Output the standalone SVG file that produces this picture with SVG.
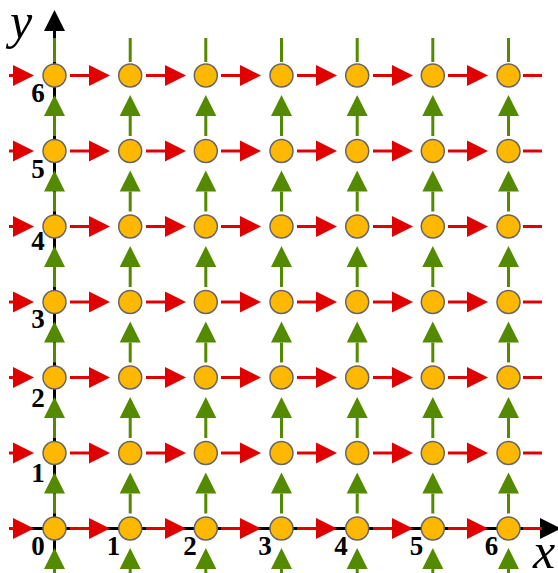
<svg xmlns="http://www.w3.org/2000/svg" width="558" height="573" viewBox="0 0 558 573">
<style>
.ax{stroke:#000;stroke-width:3;fill:none}
.r{stroke:#E00000;stroke-width:3;fill:none}
.g{stroke:#548A00;stroke-width:3;fill:none}
.n{fill:#FFB800;stroke:#666;stroke-width:1.5}
</style>
<defs>
<marker id="ra" markerUnits="userSpaceOnUse" markerWidth="22" markerHeight="22" refX="0" refY="10.5" orient="auto" overflow="visible"><path d="M0,0 L21,10.5 L0,21 z" fill="#E00000"/></marker>
<marker id="ga" markerUnits="userSpaceOnUse" markerWidth="22" markerHeight="22" refX="0" refY="10.5" orient="auto" overflow="visible"><path d="M0,0 L21,10.5 L0,21 z" fill="#548A00"/></marker>
<marker id="ka" markerUnits="userSpaceOnUse" markerWidth="22" markerHeight="22" refX="0" refY="10.5" orient="auto" overflow="visible"><path d="M0,0 L21,10.5 L0,21 z" fill="#000"/></marker>
</defs>
<g id="axes">
<line class="ax" x1="54.5" y1="573" x2="54.5" y2="31" marker-end="url(#ka)"/>
<line class="ax" x1="9" y1="528.5" x2="540" y2="528.5" marker-end="url(#ka)"/>
</g>
<g id="connectors">
<g id="red">
<line class="r" x1="9" y1="75.5" x2="13" y2="75.5" marker-end="url(#ra)"/>
<line class="r" x1="9" y1="151" x2="13" y2="151" marker-end="url(#ra)"/>
<line class="r" x1="9" y1="226.5" x2="13" y2="226.5" marker-end="url(#ra)"/>
<line class="r" x1="9" y1="302" x2="13" y2="302" marker-end="url(#ra)"/>
<line class="r" x1="9" y1="377.5" x2="13" y2="377.5" marker-end="url(#ra)"/>
<line class="r" x1="9" y1="453" x2="13" y2="453" marker-end="url(#ra)"/>
<line class="r" x1="9" y1="528.5" x2="13" y2="528.5" marker-end="url(#ra)"/>

<line class="r" x1="70" y1="75.5" x2="89" y2="75.5" marker-end="url(#ra)"/>
<line class="r" x1="146" y1="75.5" x2="165" y2="75.5" marker-end="url(#ra)"/>
<line class="r" x1="221" y1="75.5" x2="240" y2="75.5" marker-end="url(#ra)"/>
<line class="r" x1="297" y1="75.5" x2="316" y2="75.5" marker-end="url(#ra)"/>
<line class="r" x1="373" y1="75.5" x2="392" y2="75.5" marker-end="url(#ra)"/>
<line class="r" x1="448" y1="75.5" x2="467" y2="75.5" marker-end="url(#ra)"/>
<line class="r" x1="523" y1="75.5" x2="542" y2="75.5"/>

<line class="r" x1="70" y1="151" x2="89" y2="151" marker-end="url(#ra)"/>
<line class="r" x1="146" y1="151" x2="165" y2="151" marker-end="url(#ra)"/>
<line class="r" x1="221" y1="151" x2="240" y2="151" marker-end="url(#ra)"/>
<line class="r" x1="297" y1="151" x2="316" y2="151" marker-end="url(#ra)"/>
<line class="r" x1="373" y1="151" x2="392" y2="151" marker-end="url(#ra)"/>
<line class="r" x1="448" y1="151" x2="467" y2="151" marker-end="url(#ra)"/>
<line class="r" x1="523" y1="151" x2="542" y2="151"/>

<line class="r" x1="70" y1="226.5" x2="89" y2="226.5" marker-end="url(#ra)"/>
<line class="r" x1="146" y1="226.5" x2="165" y2="226.5" marker-end="url(#ra)"/>
<line class="r" x1="221" y1="226.5" x2="240" y2="226.5" marker-end="url(#ra)"/>
<line class="r" x1="297" y1="226.5" x2="316" y2="226.5" marker-end="url(#ra)"/>
<line class="r" x1="373" y1="226.5" x2="392" y2="226.5" marker-end="url(#ra)"/>
<line class="r" x1="448" y1="226.5" x2="467" y2="226.5" marker-end="url(#ra)"/>
<line class="r" x1="523" y1="226.5" x2="542" y2="226.5"/>

<line class="r" x1="70" y1="302" x2="89" y2="302" marker-end="url(#ra)"/>
<line class="r" x1="146" y1="302" x2="165" y2="302" marker-end="url(#ra)"/>
<line class="r" x1="221" y1="302" x2="240" y2="302" marker-end="url(#ra)"/>
<line class="r" x1="297" y1="302" x2="316" y2="302" marker-end="url(#ra)"/>
<line class="r" x1="373" y1="302" x2="392" y2="302" marker-end="url(#ra)"/>
<line class="r" x1="448" y1="302" x2="467" y2="302" marker-end="url(#ra)"/>
<line class="r" x1="523" y1="302" x2="542" y2="302"/>

<line class="r" x1="70" y1="377.5" x2="89" y2="377.5" marker-end="url(#ra)"/>
<line class="r" x1="146" y1="377.5" x2="165" y2="377.5" marker-end="url(#ra)"/>
<line class="r" x1="221" y1="377.5" x2="240" y2="377.5" marker-end="url(#ra)"/>
<line class="r" x1="297" y1="377.5" x2="316" y2="377.5" marker-end="url(#ra)"/>
<line class="r" x1="373" y1="377.5" x2="392" y2="377.5" marker-end="url(#ra)"/>
<line class="r" x1="448" y1="377.5" x2="467" y2="377.5" marker-end="url(#ra)"/>
<line class="r" x1="523" y1="377.5" x2="542" y2="377.5"/>

<line class="r" x1="70" y1="453" x2="89" y2="453" marker-end="url(#ra)"/>
<line class="r" x1="146" y1="453" x2="165" y2="453" marker-end="url(#ra)"/>
<line class="r" x1="221" y1="453" x2="240" y2="453" marker-end="url(#ra)"/>
<line class="r" x1="297" y1="453" x2="316" y2="453" marker-end="url(#ra)"/>
<line class="r" x1="373" y1="453" x2="392" y2="453" marker-end="url(#ra)"/>
<line class="r" x1="448" y1="453" x2="467" y2="453" marker-end="url(#ra)"/>
<line class="r" x1="523" y1="453" x2="542" y2="453"/>

<line class="r" x1="70" y1="528.5" x2="89" y2="528.5" marker-end="url(#ra)"/>
<line class="r" x1="146" y1="528.5" x2="165" y2="528.5" marker-end="url(#ra)"/>
<line class="r" x1="221" y1="528.5" x2="240" y2="528.5" marker-end="url(#ra)"/>
<line class="r" x1="297" y1="528.5" x2="316" y2="528.5" marker-end="url(#ra)"/>
<line class="r" x1="373" y1="528.5" x2="392" y2="528.5" marker-end="url(#ra)"/>
<line class="r" x1="448" y1="528.5" x2="467" y2="528.5" marker-end="url(#ra)"/>
<line class="r" x1="523" y1="528.5" x2="542" y2="528.5"/>
</g>
<g id="green">
<line class="g" x1="54.5" y1="38" x2="54.5" y2="62"/>
<line class="g" x1="130.2" y1="38" x2="130.2" y2="62"/>
<line class="g" x1="205.8" y1="38" x2="205.8" y2="62"/>
<line class="g" x1="281.5" y1="38" x2="281.5" y2="62"/>
<line class="g" x1="357.2" y1="38" x2="357.2" y2="62"/>
<line class="g" x1="432.8" y1="38" x2="432.8" y2="62"/>
<line class="g" x1="508.5" y1="38" x2="508.5" y2="62"/>

<line class="g" x1="54.5" y1="136" x2="54.5" y2="116" marker-end="url(#ga)"/>
<line class="g" x1="130.2" y1="136" x2="130.2" y2="116" marker-end="url(#ga)"/>
<line class="g" x1="205.8" y1="136" x2="205.8" y2="116" marker-end="url(#ga)"/>
<line class="g" x1="281.5" y1="136" x2="281.5" y2="116" marker-end="url(#ga)"/>
<line class="g" x1="357.2" y1="136" x2="357.2" y2="116" marker-end="url(#ga)"/>
<line class="g" x1="432.8" y1="136" x2="432.8" y2="116" marker-end="url(#ga)"/>
<line class="g" x1="508.5" y1="136" x2="508.5" y2="116" marker-end="url(#ga)"/>

<line class="g" x1="54.5" y1="211.5" x2="54.5" y2="191.5" marker-end="url(#ga)"/>
<line class="g" x1="130.2" y1="211.5" x2="130.2" y2="191.5" marker-end="url(#ga)"/>
<line class="g" x1="205.8" y1="211.5" x2="205.8" y2="191.5" marker-end="url(#ga)"/>
<line class="g" x1="281.5" y1="211.5" x2="281.5" y2="191.5" marker-end="url(#ga)"/>
<line class="g" x1="357.2" y1="211.5" x2="357.2" y2="191.5" marker-end="url(#ga)"/>
<line class="g" x1="432.8" y1="211.5" x2="432.8" y2="191.5" marker-end="url(#ga)"/>
<line class="g" x1="508.5" y1="211.5" x2="508.5" y2="191.5" marker-end="url(#ga)"/>

<line class="g" x1="54.5" y1="287" x2="54.5" y2="267" marker-end="url(#ga)"/>
<line class="g" x1="130.2" y1="287" x2="130.2" y2="267" marker-end="url(#ga)"/>
<line class="g" x1="205.8" y1="287" x2="205.8" y2="267" marker-end="url(#ga)"/>
<line class="g" x1="281.5" y1="287" x2="281.5" y2="267" marker-end="url(#ga)"/>
<line class="g" x1="357.2" y1="287" x2="357.2" y2="267" marker-end="url(#ga)"/>
<line class="g" x1="432.8" y1="287" x2="432.8" y2="267" marker-end="url(#ga)"/>
<line class="g" x1="508.5" y1="287" x2="508.5" y2="267" marker-end="url(#ga)"/>

<line class="g" x1="54.5" y1="362.5" x2="54.5" y2="342.5" marker-end="url(#ga)"/>
<line class="g" x1="130.2" y1="362.5" x2="130.2" y2="342.5" marker-end="url(#ga)"/>
<line class="g" x1="205.8" y1="362.5" x2="205.8" y2="342.5" marker-end="url(#ga)"/>
<line class="g" x1="281.5" y1="362.5" x2="281.5" y2="342.5" marker-end="url(#ga)"/>
<line class="g" x1="357.2" y1="362.5" x2="357.2" y2="342.5" marker-end="url(#ga)"/>
<line class="g" x1="432.8" y1="362.5" x2="432.8" y2="342.5" marker-end="url(#ga)"/>
<line class="g" x1="508.5" y1="362.5" x2="508.5" y2="342.5" marker-end="url(#ga)"/>

<line class="g" x1="54.5" y1="438" x2="54.5" y2="418" marker-end="url(#ga)"/>
<line class="g" x1="130.2" y1="438" x2="130.2" y2="418" marker-end="url(#ga)"/>
<line class="g" x1="205.8" y1="438" x2="205.8" y2="418" marker-end="url(#ga)"/>
<line class="g" x1="281.5" y1="438" x2="281.5" y2="418" marker-end="url(#ga)"/>
<line class="g" x1="357.2" y1="438" x2="357.2" y2="418" marker-end="url(#ga)"/>
<line class="g" x1="432.8" y1="438" x2="432.8" y2="418" marker-end="url(#ga)"/>
<line class="g" x1="508.5" y1="438" x2="508.5" y2="418" marker-end="url(#ga)"/>

<line class="g" x1="54.5" y1="513.5" x2="54.5" y2="493.5" marker-end="url(#ga)"/>
<line class="g" x1="130.2" y1="513.5" x2="130.2" y2="493.5" marker-end="url(#ga)"/>
<line class="g" x1="205.8" y1="513.5" x2="205.8" y2="493.5" marker-end="url(#ga)"/>
<line class="g" x1="281.5" y1="513.5" x2="281.5" y2="493.5" marker-end="url(#ga)"/>
<line class="g" x1="357.2" y1="513.5" x2="357.2" y2="493.5" marker-end="url(#ga)"/>
<line class="g" x1="432.8" y1="513.5" x2="432.8" y2="493.5" marker-end="url(#ga)"/>
<line class="g" x1="508.5" y1="513.5" x2="508.5" y2="493.5" marker-end="url(#ga)"/>

<line class="g" x1="54.5" y1="590" x2="54.5" y2="569" marker-end="url(#ga)"/>
<line class="g" x1="130.2" y1="590" x2="130.2" y2="569" marker-end="url(#ga)"/>
<line class="g" x1="205.8" y1="590" x2="205.8" y2="569" marker-end="url(#ga)"/>
<line class="g" x1="281.5" y1="590" x2="281.5" y2="569" marker-end="url(#ga)"/>
<line class="g" x1="357.2" y1="590" x2="357.2" y2="569" marker-end="url(#ga)"/>
<line class="g" x1="432.8" y1="590" x2="432.8" y2="569" marker-end="url(#ga)"/>
<line class="g" x1="508.5" y1="590" x2="508.5" y2="569" marker-end="url(#ga)"/>
</g>
</g>
<g id="nodes">
<g id="r6"><circle class="n" cx="54.5" cy="75.5" r="11.5"/><circle class="n" cx="130.2" cy="75.5" r="11.5"/><circle class="n" cx="205.8" cy="75.5" r="11.5"/><circle class="n" cx="281.5" cy="75.5" r="11.5"/><circle class="n" cx="357.2" cy="75.5" r="11.5"/><circle class="n" cx="432.8" cy="75.5" r="11.5"/><circle class="n" cx="508.5" cy="75.5" r="11.5"/></g>
<g id="r5"><circle class="n" cx="54.5" cy="151" r="11.5"/><circle class="n" cx="130.2" cy="151" r="11.5"/><circle class="n" cx="205.8" cy="151" r="11.5"/><circle class="n" cx="281.5" cy="151" r="11.5"/><circle class="n" cx="357.2" cy="151" r="11.5"/><circle class="n" cx="432.8" cy="151" r="11.5"/><circle class="n" cx="508.5" cy="151" r="11.5"/></g>
<g id="r4"><circle class="n" cx="54.5" cy="226.5" r="11.5"/><circle class="n" cx="130.2" cy="226.5" r="11.5"/><circle class="n" cx="205.8" cy="226.5" r="11.5"/><circle class="n" cx="281.5" cy="226.5" r="11.5"/><circle class="n" cx="357.2" cy="226.5" r="11.5"/><circle class="n" cx="432.8" cy="226.5" r="11.5"/><circle class="n" cx="508.5" cy="226.5" r="11.5"/></g>
<g id="r3"><circle class="n" cx="54.5" cy="302" r="11.5"/><circle class="n" cx="130.2" cy="302" r="11.5"/><circle class="n" cx="205.8" cy="302" r="11.5"/><circle class="n" cx="281.5" cy="302" r="11.5"/><circle class="n" cx="357.2" cy="302" r="11.5"/><circle class="n" cx="432.8" cy="302" r="11.5"/><circle class="n" cx="508.5" cy="302" r="11.5"/></g>
<g id="r2"><circle class="n" cx="54.5" cy="377.5" r="11.5"/><circle class="n" cx="130.2" cy="377.5" r="11.5"/><circle class="n" cx="205.8" cy="377.5" r="11.5"/><circle class="n" cx="281.5" cy="377.5" r="11.5"/><circle class="n" cx="357.2" cy="377.5" r="11.5"/><circle class="n" cx="432.8" cy="377.5" r="11.5"/><circle class="n" cx="508.5" cy="377.5" r="11.5"/></g>
<g id="r1"><circle class="n" cx="54.5" cy="453" r="11.5"/><circle class="n" cx="130.2" cy="453" r="11.5"/><circle class="n" cx="205.8" cy="453" r="11.5"/><circle class="n" cx="281.5" cy="453" r="11.5"/><circle class="n" cx="357.2" cy="453" r="11.5"/><circle class="n" cx="432.8" cy="453" r="11.5"/><circle class="n" cx="508.5" cy="453" r="11.5"/></g>
<g id="r0"><circle class="n" cx="54.5" cy="528.5" r="11.5"/><circle class="n" cx="130.2" cy="528.5" r="11.5"/><circle class="n" cx="205.8" cy="528.5" r="11.5"/><circle class="n" cx="281.5" cy="528.5" r="11.5"/><circle class="n" cx="357.2" cy="528.5" r="11.5"/><circle class="n" cx="432.8" cy="528.5" r="11.5"/><circle class="n" cx="508.5" cy="528.5" r="11.5"/></g>
</g>
<g id="labels" font-family="'Liberation Serif', 'Times New Roman', serif">
<g font-style="italic" font-size="50">
<text x="10" y="38">y</text>
<text x="533" y="568">x</text>
</g>
<g font-weight="bold" font-size="27" text-anchor="middle">
<text x="38" y="102">6</text>
<text x="38" y="178">5</text>
<text x="38" y="250">4</text>
<text x="38" y="328">3</text>
<text x="38" y="407">2</text>
<text x="38" y="482">1</text>
<text x="38" y="555">0</text>
<text x="113.5" y="555">1</text>
<text x="190" y="555">2</text>
<text x="265" y="555">3</text>
<text x="341" y="555">4</text>
<text x="416.5" y="555">5</text>
<text x="491.5" y="555">6</text>
</g>
</g>
</svg>
